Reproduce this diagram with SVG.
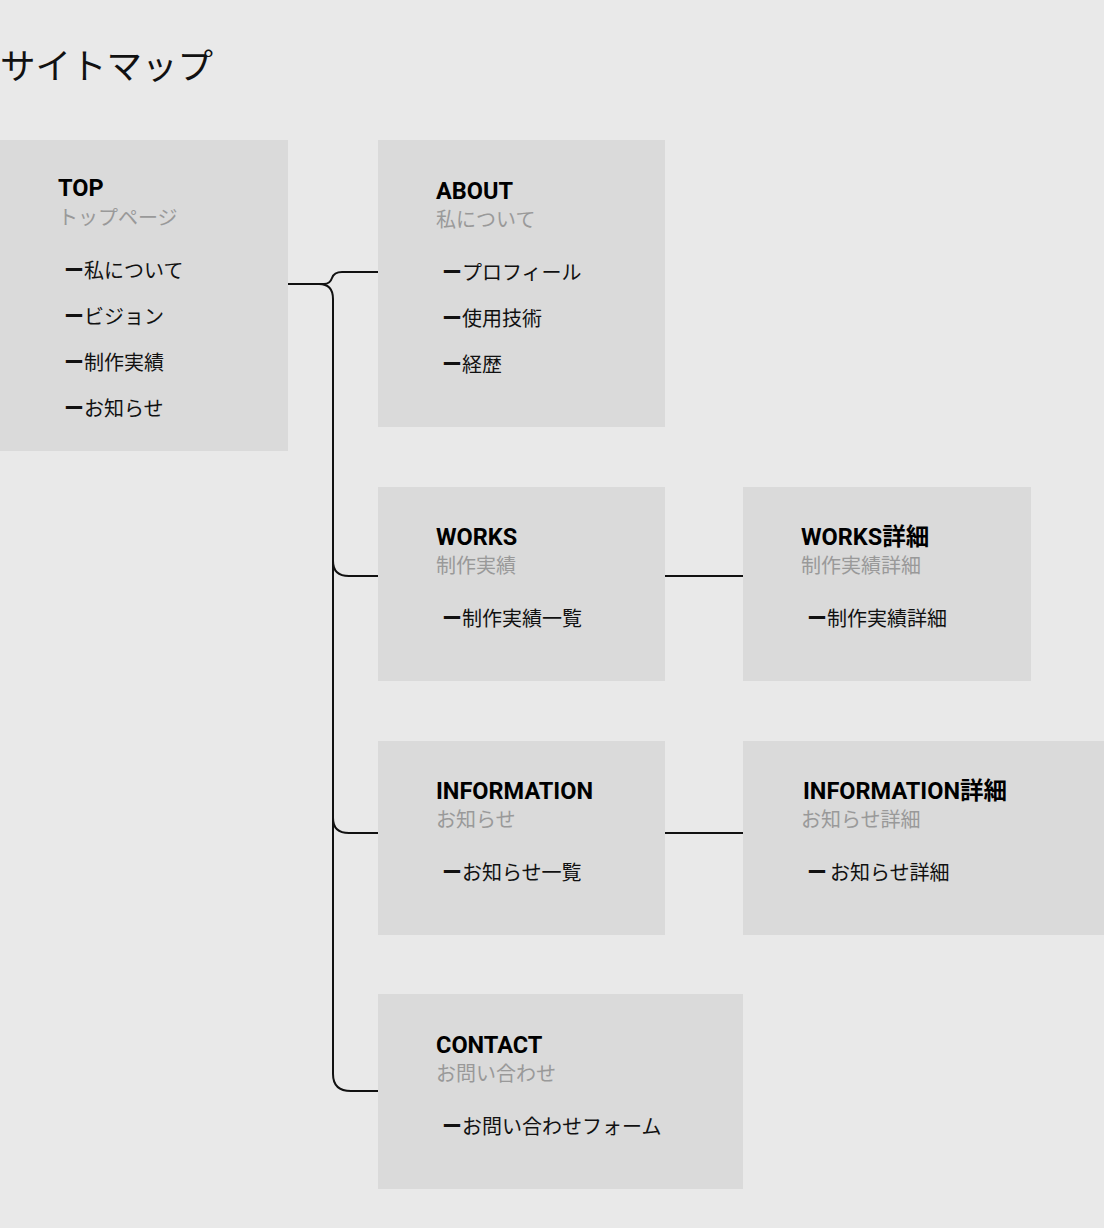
<svg xmlns="http://www.w3.org/2000/svg" width="1104" height="1228" viewBox="0 0 1104 1228">
<style>
.box{fill:#dadada}
.ttl{font-family:Roboto,"Noto Sans CJK JP",sans-serif;font-weight:700;font-size:23.5px;fill:#000}
.sub{font-family:"Noto Sans CJK JP",sans-serif;font-size:20px;fill:#999}
.item{font-family:"Noto Sans CJK JP",sans-serif;font-size:20px;fill:#111}
.d{font-weight:700}
.conn{fill:none;stroke:#111;stroke-width:2}
</style>
<rect width="1104" height="1228" fill="#e9e9e9"/>
<text x="0" y="79" font-family="'Noto Sans CJK JP',sans-serif" font-size="35.5" fill="#111">サイトマップ</text>
<g id="connectors">
<path class="conn" d="M288 284 H319 Q333 284 333 299 V1074 Q333 1091 351 1091 H378"/>
<path class="conn" d="M318 284 H324 Q330 284 332 278 Q334 272 342 272 H378"/>
<path class="conn" d="M333 561 Q333 576 349 576 H378"/>
<path class="conn" d="M333 818 Q333 833 349 833 H378"/>
<path class="conn" d="M665 576 H743"/>
<path class="conn" d="M665 833 H743"/>
</g>
<g id="top">
<rect class="box" x="0" y="140" width="288" height="311"/>
<text class="ttl" x="58" y="196">TOP</text>
<text class="sub" x="58" y="225">トップページ</text>
<text class="item" x="64" y="278"><tspan class="d">ー</tspan>私について</text>
<text class="item" x="64" y="324"><tspan class="d">ー</tspan>ビジョン</text>
<text class="item" x="64" y="370"><tspan class="d">ー</tspan>制作実績</text>
<text class="item" x="64" y="416"><tspan class="d">ー</tspan>お知らせ</text>
</g>
<g id="about">
<rect class="box" x="378" y="140" width="287" height="287"/>
<text class="ttl" x="436" y="199">ABOUT</text>
<text class="sub" x="436" y="227">私について</text>
<text class="item" x="442" y="280"><tspan class="d">ー</tspan>プロフィール</text>
<text class="item" x="442" y="326"><tspan class="d">ー</tspan>使用技術</text>
<text class="item" x="442" y="372"><tspan class="d">ー</tspan>経歴</text>
</g>
<g id="works">
<rect class="box" x="378" y="487" width="287" height="194"/>
<text class="ttl" x="436" y="545">WORKS</text>
<text class="sub" x="436" y="573">制作実績</text>
<text class="item" x="442" y="626"><tspan class="d">ー</tspan>制作実績一覧</text>
</g>
<g id="works-detail">
<rect class="box" x="743" y="487" width="288" height="194"/>
<text class="ttl" x="801" y="545">WORKS詳細</text>
<text class="sub" x="801" y="573">制作実績詳細</text>
<text class="item" x="807" y="626"><tspan class="d">ー</tspan>制作実績詳細</text>
</g>
<g id="information">
<rect class="box" x="378" y="741" width="287" height="194"/>
<text class="ttl" x="436" y="799">INFORMATION</text>
<text class="sub" x="436" y="827">お知らせ</text>
<text class="item" x="442" y="880"><tspan class="d">ー</tspan>お知らせ一覧</text>
</g>
<g id="information-detail">
<rect class="box" x="743" y="741" width="361" height="194"/>
<text class="ttl" x="803" y="799">INFORMATION詳細</text>
<text class="sub" x="801" y="827">お知らせ詳細</text>
<text class="item" x="807" y="880"><tspan class="d">ー</tspan><tspan x="830">お知らせ詳細</tspan></text>
</g>
<g id="contact">
<rect class="box" x="378" y="994" width="365" height="195"/>
<text class="ttl" x="436" y="1053">CONTACT</text>
<text class="sub" x="436" y="1081">お問い合わせ</text>
<text class="item" x="442" y="1134"><tspan class="d">ー</tspan>お問い合わせフォーム</text>
</g>
</svg>
